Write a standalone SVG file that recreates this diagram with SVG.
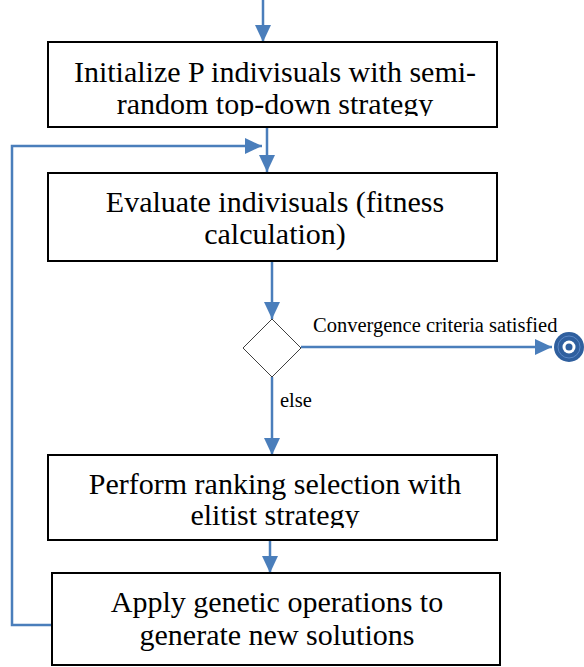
<svg xmlns="http://www.w3.org/2000/svg" width="584" height="667" viewBox="0 0 584 667">
  <style>
    .box { fill: #ffffff; stroke: #000000; stroke-width: 2; }
    .flow { fill: none; stroke: #4A7EBB; stroke-width: 2.5; }
    text { font-family: "Liberation Serif", "Times New Roman", serif; fill: #000000; }
    .lbl { font-size: 30px; text-anchor: middle; }
    .small { font-size: 20.5px; }
  </style>
  <defs>
    <marker id="head" markerUnits="userSpaceOnUse" markerWidth="18" markerHeight="18" viewBox="0 0 18 18" refX="17" refY="9" orient="auto">
      <path d="M0,1 L17,9 L0,17 Z" fill="#4A7EBB"/>
    </marker>
    <clipPath id="clip-init"><rect x="48" y="42" width="449" height="74"/></clipPath>
    <clipPath id="clip-rank"><rect x="48" y="455" width="449" height="73"/></clipPath>
  </defs>
  <rect width="584" height="667" fill="#ffffff"/>

  <!-- connectors -->
  <g id="connectors">
    <line class="flow" x1="263" y1="0" x2="263" y2="42" marker-end="url(#head)"/>
    <line class="flow" x1="267" y1="128" x2="267" y2="172" marker-end="url(#head)"/>
    <line class="flow" x1="272" y1="262" x2="272" y2="319" marker-end="url(#head)"/>
    <line class="flow" x1="301" y1="347" x2="552" y2="347" marker-end="url(#head)"/>
    <line class="flow" x1="272" y1="377" x2="272" y2="455" marker-end="url(#head)"/>
    <line class="flow" x1="270" y1="541" x2="270" y2="573" marker-end="url(#head)"/>
    <polyline class="flow" points="52,625 12,625 12,146 262,146" marker-end="url(#head)"/>
    <text class="small" x="313" y="332">Convergence criteria satisfied</text>
    <text class="small" x="280" y="407">else</text>
  </g>

  <!-- initialisation step -->
  <g id="init">
    <rect class="box" x="48" y="42" width="449" height="85"/>
    <g clip-path="url(#clip-init)">
      <text class="lbl" x="275" y="82">Initialize P indivisuals with semi-</text>
      <text class="lbl" x="275" y="114">random top-down strategy</text>
    </g>
  </g>

  <!-- fitness evaluation step -->
  <g id="evaluate">
    <rect class="box" x="48" y="173" width="449" height="88"/>
    <text class="lbl" x="275" y="212">Evaluate indivisuals (fitness</text>
    <text class="lbl" x="275" y="244">calculation)</text>
  </g>

  <!-- convergence decision -->
  <g id="decision">
    <polygon points="272,319 301,348 272,377 243,348" fill="#ffffff" stroke="#404040" stroke-width="1"/>
  </g>

  <!-- final state -->
  <g id="end">
    <circle cx="569" cy="347" r="15" fill="#2F5F9E"/>
    <circle cx="569" cy="347" r="11" fill="none" stroke="#5B87C5" stroke-width="1"/>
    <circle cx="569" cy="347" r="6.5" fill="#ffffff"/>
    <circle cx="569" cy="347" r="3.5" fill="#2F5F9E"/>
  </g>

  <!-- ranking selection step -->
  <g id="selection">
    <rect class="box" x="48" y="455" width="449" height="85"/>
    <g clip-path="url(#clip-rank)">
      <text class="lbl" x="275" y="494">Perform ranking selection with</text>
      <text class="lbl" x="275" y="525">elitist strategy</text>
    </g>
  </g>

  <!-- genetic operators step -->
  <g id="operators">
    <rect class="box" x="52" y="573" width="448" height="92"/>
    <text class="lbl" x="277" y="612">Apply genetic operations to</text>
    <text class="lbl" x="277" y="645">generate new solutions</text>
  </g>
</svg>
